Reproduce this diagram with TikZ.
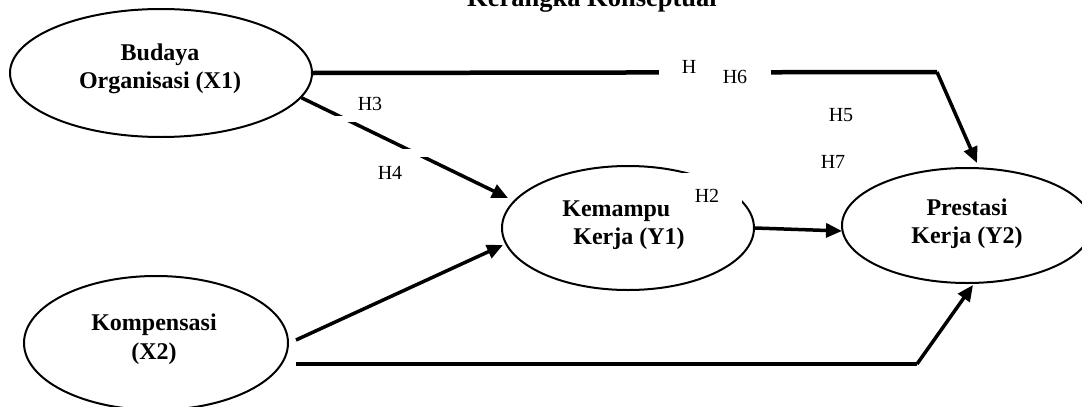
\documentclass[tikz,border=0pt]{standalone}
\usepackage{fontspec}
\setmainfont{Liberation Serif}
\usetikzlibrary{arrows.meta,shapes.geometric}
\begin{document}
\begin{tikzpicture}[x=1pt,y=-1pt,
  var/.style={draw,ellipse,line width=2pt,inner sep=0pt},
  vtext/.style={font=\fontsize{24}{28.5}\selectfont\bfseries,align=center,inner sep=0pt},
  hlab/.style={font=\fontsize{20}{24}\selectfont,inner sep=0pt},
  ttl/.style={font=\fontsize{26.5}{30}\selectfont\bfseries,inner sep=0pt},
  mask/.style={fill=white,draw=none},
  thk/.style={line width=4.5pt},
  arr/.style={line width=3.5pt,-{Triangle[length=16pt,width=14pt]}},
]
\useasboundingbox (0,0) rectangle (1082,407);
\clip (0,0) rectangle (1082,407);

% title (cut by the top edge)
\node[ttl,anchor=base] (title) at (592,6) {Kerangka Konseptual};

% variables
\node[var,minimum width=302pt,minimum height=128pt] (x1) at (161,73) {};
\node[var,minimum width=264pt,minimum height=134pt] (x2) at (156,343) {};
\node[var,minimum width=252pt,minimum height=124pt] (y1) at (628,228) {};
\node[var,minimum width=250pt,minimum height=115pt] (y2) at (967,225.5) {};

\node[vtext] (x1t) at (160,69) {Budaya\\Organisasi (X1)};
\node[vtext] (x2t) at (154,339) {Kompensasi\\(X2)};
\node[vtext] (y1t) at (629,225) {Kemampuan\\Kerja (Y1)};
\node[vtext] (y2t) at (967,223.5) {Prestasi\\Kerja (Y2)};

% free ends
\coordinate (c1) at (937,72);
\coordinate (c2) at (917,364);
\coordinate (t1) at (977,163);
\coordinate (t2) at (508,198);
\coordinate (t3) at (503,245);
\coordinate (t4) at (973,285);
\coordinate (t5) at (842,231);

% connectors
\draw[thk] (x1.east) -- (c1);
\draw[arr] (c1) -- (t1);
\draw[arr] (x1.-10) -- (t2);
\draw[arr] ([shift={(7,-3)}]x2.east) -- (t3);
\draw[thk] ([shift={(7,21)}]x2.east) -- (c2);
\draw[arr] (c2) -- (t4);
\draw[arr] (y1.east) -- (t5);

% white patches behind the labels
\fill[mask] (659,58) rectangle (771,86);
\fill[mask] (320,115.5) rectangle (360,121.5);
\fill[mask] (395,148.5) rectangle (445,156.5);
\fill[mask] (670,172.5) rectangle (742,218);

% labels
\node[hlab] (h1) at (689,67) {H};
\node[hlab] (h6) at (735,77) {H6};
\node[hlab] (h3) at (370,104) {H3};
\node[hlab] (h4) at (390,173) {H4};
\node[hlab] (h5) at (841,115) {H5};
\node[hlab] (h7) at (833,162) {H7};
\node[hlab] (h2) at (707,196) {H2};
\end{tikzpicture}
\end{document}
